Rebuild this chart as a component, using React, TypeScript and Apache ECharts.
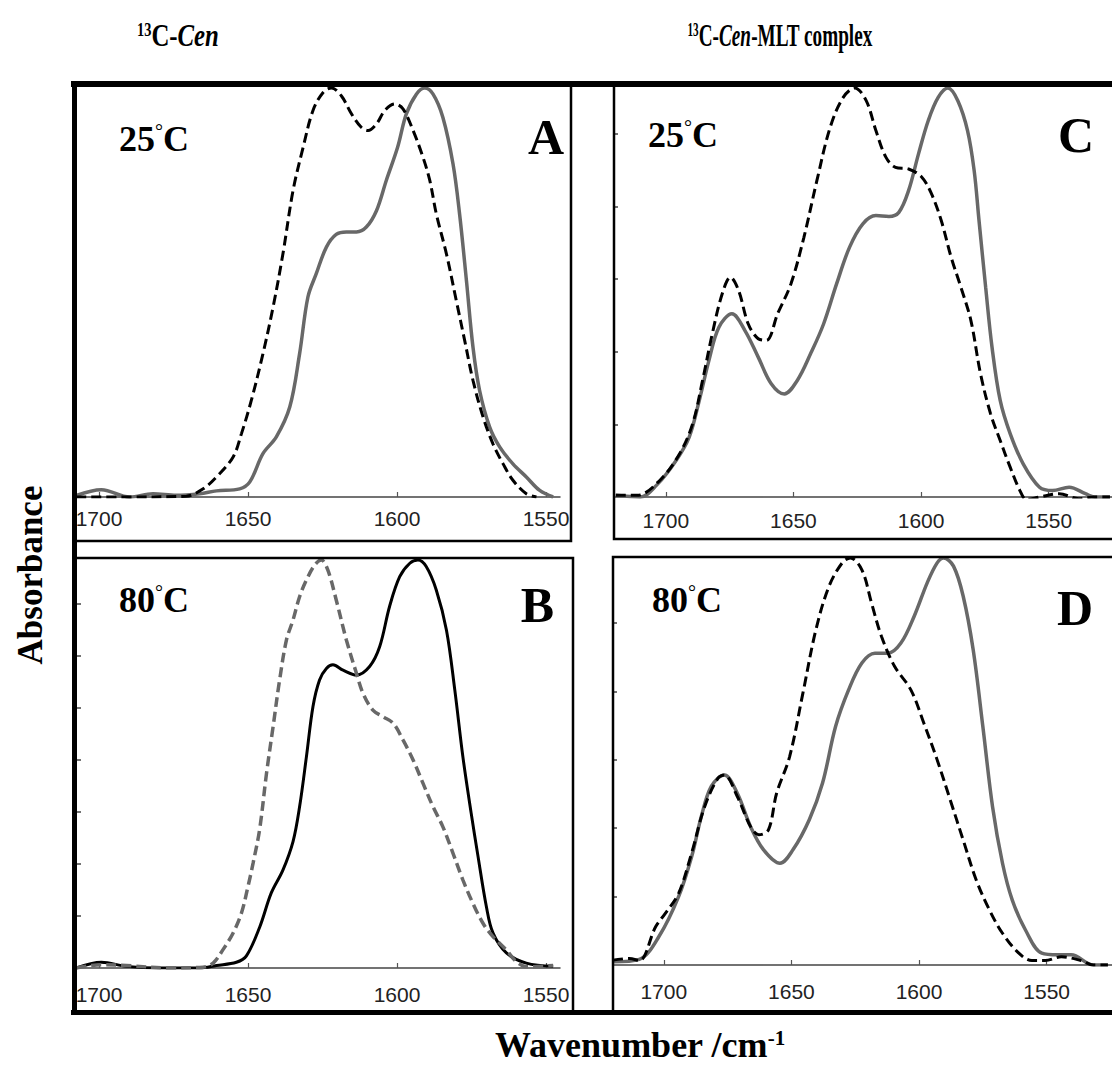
import React, { useEffect, useRef } from 'react';
import * as echarts from 'echarts';

// Wavenumber tick labels (cm-1)
const xTickValues = [1550, 1600, 1650, 1700];

// Panel A: 13C-Cen, 25 °C  [wavenumber, normalized absorbance]
const aSolid: number[][] = [
  [1707.6, 0.004], [1699.2, 0.018], [1689.7, 0.0], [1681.9, 0.008], [1674.1, 0.004], [1666.2, 0.008],
  [1660.6, 0.015], [1652.8, 0.02], [1649.4, 0.037], [1645.0, 0.106], [1640.5, 0.147], [1636.0, 0.22],
  [1632.7, 0.35], [1629.9, 0.489], [1627.1, 0.546], [1623.7, 0.611], [1620.4, 0.642], [1617.0, 0.648],
  [1613.6, 0.648], [1610.3, 0.66], [1606.9, 0.7], [1603.6, 0.774], [1599.8, 0.855], [1596.9, 0.936],
  [1593.5, 0.985], [1590.7, 1.0], [1587.9, 0.985], [1584.6, 0.928], [1581.2, 0.814], [1579.0, 0.692],
  [1576.7, 0.529], [1574.5, 0.366], [1572.3, 0.261], [1568.9, 0.171], [1565.5, 0.122], [1561.1, 0.081],
  [1556.6, 0.049], [1552.1, 0.016], [1547.6, 0.0],
];
const aDashed: number[][] = [
  [1707.6, 0.0], [1690, 0.0], [1670.7, 0.002], [1665.1, 0.02], [1660.6, 0.049], [1655.0, 0.098],
  [1652.2, 0.155], [1648.9, 0.236], [1645.0, 0.35], [1641.6, 0.464], [1638.3, 0.594], [1634.9, 0.749],
  [1631.5, 0.855], [1628.2, 0.945], [1624.8, 0.989], [1622.0, 1.0], [1618.7, 0.981], [1615.3, 0.937],
  [1612.0, 0.904], [1609.7, 0.896], [1606.9, 0.912], [1604.1, 0.945], [1600.8, 0.961], [1598.0, 0.949],
  [1594.6, 0.896], [1591.3, 0.831], [1589.0, 0.774], [1586.8, 0.692], [1583.4, 0.594], [1580.1, 0.48],
  [1577.3, 0.383], [1574.5, 0.285], [1571.1, 0.195], [1567.8, 0.13], [1564.4, 0.081], [1561.1, 0.041],
  [1556.6, 0.008], [1553.2, 0.0],
];

// Panel B: 13C-Cen, 80 °C
const bSolid: number[][] = [
  [1707.6, 0.0], [1699.2, 0.014], [1690.8, 0.004], [1679.6, 0.0], [1666.2, 0.0], [1660.6, 0.006],
  [1653.9, 0.014], [1650.6, 0.029], [1646.1, 0.1], [1642.2, 0.184], [1638.3, 0.24], [1634.9, 0.31],
  [1632.7, 0.395], [1630.4, 0.518], [1628.2, 0.641], [1626.0, 0.706], [1623.7, 0.734], [1621.5, 0.743],
  [1618.1, 0.73], [1613.6, 0.718], [1609.2, 0.739], [1605.8, 0.788], [1602.5, 0.886], [1599.1, 0.959],
  [1595.7, 0.992], [1593.0, 1.0], [1590.2, 0.984], [1586.8, 0.926], [1583.4, 0.828], [1580.6, 0.681],
  [1577.9, 0.518], [1575.1, 0.379], [1572.8, 0.273], [1570.0, 0.15], [1567.8, 0.086], [1563.3, 0.037],
  [1556.6, 0.012], [1547.6, 0.004],
];
const bDashed: number[][] = [
  [1707.6, 0.0], [1699.2, 0.008], [1690.8, 0.006], [1676.0, 0.0], [1665.1, 0.002], [1661.7, 0.012],
  [1658.4, 0.045], [1655.0, 0.086], [1652.2, 0.135], [1650.0, 0.2], [1648.3, 0.257], [1646.1, 0.34],
  [1643.8, 0.477], [1641.6, 0.591], [1639.4, 0.706], [1637.1, 0.804], [1634.9, 0.853], [1632.7, 0.91],
  [1630.4, 0.951], [1627.6, 0.988], [1625.4, 1.0], [1623.2, 0.975], [1620.4, 0.902], [1617.0, 0.804],
  [1613.6, 0.722], [1611.4, 0.673], [1608.1, 0.632], [1604.7, 0.616], [1601.3, 0.6], [1598.0, 0.559],
  [1594.6, 0.51], [1591.3, 0.453], [1587.9, 0.395], [1584.6, 0.346], [1581.2, 0.281], [1577.9, 0.216],
  [1574.5, 0.158], [1571.1, 0.109], [1567.8, 0.077], [1563.3, 0.044], [1560.0, 0.016], [1556.6, 0.003],
  [1547.6, 0.006],
];

// Panel C: 13C-Cen-MLT complex, 25 °C
const cSolid: number[][] = [
  [1719.6, 0.004], [1710.0, 0.0], [1703.6, 0.029], [1695.9, 0.09], [1690.8, 0.147], [1686.9, 0.236],
  [1683.1, 0.334], [1679.2, 0.415], [1674.1, 0.448], [1669.0, 0.407], [1663.8, 0.342], [1658.7, 0.277],
  [1653.6, 0.252], [1648.5, 0.285], [1643.3, 0.35], [1638.2, 0.423], [1633.1, 0.521], [1628.0, 0.611],
  [1622.8, 0.668], [1617.7, 0.688], [1612.6, 0.686], [1608.7, 0.696], [1604.9, 0.749], [1601.0, 0.839],
  [1597.2, 0.92], [1593.3, 0.977], [1589.5, 1.0], [1585.6, 0.969], [1581.8, 0.896], [1579.2, 0.798],
  [1577.3, 0.676], [1574.7, 0.513], [1572.2, 0.366], [1569.0, 0.236], [1565.1, 0.155], [1560.0, 0.081],
  [1553.6, 0.024], [1548.5, 0.016], [1542.0, 0.024], [1535.6, 0.008], [1532.0, 0.0], [1526.0, 0.0],
];
const cDashed: number[][] = [
  [1719.6, 0.004], [1711.3, 0.004], [1702.3, 0.041], [1694.6, 0.106], [1689.5, 0.179], [1685.6, 0.285],
  [1681.8, 0.399], [1677.9, 0.497], [1674.7, 0.537], [1671.5, 0.505], [1667.7, 0.423], [1663.8, 0.387],
  [1660.6, 0.383], [1656.2, 0.448], [1651.0, 0.521], [1645.9, 0.635], [1640.8, 0.774], [1635.6, 0.904],
  [1630.5, 0.977], [1626.0, 1.0], [1621.5, 0.969], [1617.7, 0.896], [1613.8, 0.831], [1610.0, 0.806],
  [1604.9, 0.802], [1599.7, 0.782], [1595.9, 0.741], [1592.1, 0.676], [1588.2, 0.586], [1584.4, 0.513],
  [1580.5, 0.432], [1576.7, 0.301], [1572.8, 0.204], [1569.0, 0.138], [1565.1, 0.073], [1561.3, 0.016],
  [1558.7, -0.006], [1553.6, 0.0], [1545.9, 0.008], [1538.2, -0.004], [1532.0, 0.0], [1526.0, 0.0],
];

// Panel D: 13C-Cen-MLT complex, 80 °C
const dSolid: number[][] = [
  [1719.9, 0.008], [1709.6, 0.014], [1701.9, 0.07], [1694.2, 0.168], [1689.1, 0.266], [1685.3, 0.365],
  [1681.4, 0.439], [1676.3, 0.467], [1671.2, 0.422], [1666.0, 0.34], [1660.9, 0.283], [1654.5, 0.25],
  [1649.4, 0.283], [1643.0, 0.357], [1637.8, 0.447], [1632.7, 0.586], [1627.6, 0.676], [1622.4, 0.742],
  [1617.3, 0.766], [1612.2, 0.766], [1607.1, 0.791], [1601.9, 0.857], [1596.8, 0.939], [1592.9, 0.988],
  [1590.4, 1.0], [1586.5, 0.98], [1582.7, 0.906], [1578.8, 0.775], [1575.0, 0.586], [1571.2, 0.389],
  [1567.3, 0.25], [1563.5, 0.16], [1558.3, 0.086], [1551.9, 0.029], [1545.5, 0.025], [1540.4, 0.025],
  [1531.7, 0.0], [1526.0, 0.0],
];
const dDashed: number[][] = [
  [1719.9, 0.012], [1713.5, 0.016], [1709.6, 0.011], [1703.2, 0.094], [1699.4, 0.127], [1694.2, 0.176],
  [1689.1, 0.275], [1684.0, 0.389], [1678.8, 0.459], [1676.3, 0.467], [1671.2, 0.414], [1666.0, 0.34],
  [1662.8, 0.32], [1659.0, 0.332], [1655.8, 0.422], [1650.7, 0.512], [1645.5, 0.668], [1640.4, 0.824],
  [1635.3, 0.93], [1630.1, 0.988], [1626.9, 1.0], [1622.4, 0.971], [1618.6, 0.889], [1614.7, 0.807],
  [1609.6, 0.734], [1603.2, 0.676], [1598.1, 0.594], [1592.9, 0.504], [1587.8, 0.406], [1582.7, 0.307],
  [1577.6, 0.209], [1572.4, 0.135], [1567.3, 0.078], [1560.9, 0.029], [1555.8, 0.011], [1550.6, 0.011],
  [1544.2, 0.02], [1536.6, 0.011], [1531.7, 0.0], [1526.0, 0.0],
];

const SERIF = 'Liberation Serif, Times New Roman, serif';
const SANS = 'Liberation Sans, Arial, sans-serif';

const GRAY = '#686868';
const BLACK = '#000000';

type Panel = {
  left: number; top: number; width: number; height: number;
  xmin: number; xmax: number; yStep: number; yCount: number; labelMargin: number;
};

const panels: Panel[] = [
  { left: 77, top: 88, width: 483, height: 409, xmin: 1545.3, xmax: 1707.4, yStep: 0, yCount: 0, labelMargin: 11 },
  { left: 77, top: 560, width: 483, height: 408, xmin: 1545.3, xmax: 1707.4, yStep: 0.1275, yCount: 7, labelMargin: 16 },
  { left: 614, top: 88, width: 506, height: 409, xmin: 1525.2, xmax: 1720.3, yStep: 0.1775, yCount: 5, labelMargin: 13 },
  { left: 613, top: 558, width: 507, height: 407, xmin: 1524.4, xmax: 1719.9, yStep: 0.168, yCount: 5, labelMargin: 16 },
];

function buildOption() {
  const grid = panels.map((p) => ({ left: p.left, top: p.top, width: p.width, height: p.height, containLabel: false }));
  const xAxis = panels.map((p, i) => ({
    gridIndex: i,
    type: 'value',
    inverse: true,
    min: p.xmin,
    max: p.xmax,
    axisLine: { show: true, onZero: false, lineStyle: { color: '#444', width: 1.5 } },
    axisTick: { show: true, inside: true, length: 5, customValues: xTickValues, lineStyle: { color: '#555', width: 1.2 } },
    axisLabel: {
      show: true,
      customValues: xTickValues,
      formatter: (v: number) => String(Math.round(v)),
      fontSize: 21,
      color: '#222',
      fontFamily: SANS,
      margin: p.labelMargin,
    },
    splitLine: { show: false },
  }));
  const yAxis = panels.map((p, i) => {
    const ticks: number[] = [];
    for (let k = 1; k <= p.yCount; k++) ticks.push(k * p.yStep);
    return {
      gridIndex: i,
      type: 'value',
      min: 0,
      max: 1,
      axisLine: { show: false },
      axisTick: { show: ticks.length > 0, inside: true, length: 4, customValues: ticks, lineStyle: { color: '#444', width: 1.5 } },
      axisLabel: { show: false },
      splitLine: { show: false },
    };
  });

  const line = (idx: number, data: number[][], color: string, width: number, dashed: boolean) => ({
    type: 'line',
    xAxisIndex: idx,
    yAxisIndex: idx,
    data,
    smooth: 0.35,
    showSymbol: false,
    symbol: 'none',
    clip: true,
    lineStyle: { color, width, type: dashed ? [10, 5] : 'solid', cap: 'butt' },
    z: dashed ? 3 : 2,
  });

  const series = [
    line(0, aSolid, GRAY, 3.5, false),
    line(0, aDashed, BLACK, 3, true),
    line(1, bSolid, BLACK, 3, false),
    line(1, bDashed, GRAY, 3.5, true),
    line(2, cSolid, GRAY, 3.5, false),
    line(2, cDashed, BLACK, 3, true),
    line(3, dSolid, GRAY, 3.5, false),
    line(3, dDashed, BLACK, 3, true),
  ];

  const tempLabel = (x: number, y: number, num: string) => ({
    type: 'text',
    x, y, z: 200,
    style: {
      text: `{n|${num}}{d|°}{n|C}`,
      rich: {
        n: { fontSize: 36, fontWeight: 'bold', fontFamily: SERIF, fill: '#000' },
        d: { fontSize: 20, fontFamily: SERIF, verticalAlign: 'top', fill: '#000' },
      },
      align: 'left',
      verticalAlign: 'middle',
    },
  });
  const letter = (x: number, y: number, t: string) => ({
    type: 'text', x, y, z: 200,
    style: { text: t, fontSize: 50, fontWeight: 'bold', fontFamily: SERIF, fill: '#000', align: 'right', verticalAlign: 'middle' },
  });

  const box = (x: number, y: number, w: number, h: number) => ({
    type: 'rect', z: 150, shape: { x, y, width: w, height: h },
    style: { fill: 'none', stroke: '#000', lineWidth: 2.5 },
  });
  const thick = (x1: number, y1: number, x2: number, y2: number, w: number) => ({
    type: 'line', z: 160, shape: { x1, y1, x2, y2 }, style: { stroke: '#000', lineWidth: w },
  });

  const titleRich = {
    s: { fontSize: 18, fontWeight: 'bold', fontFamily: SERIF, verticalAlign: 'top', fill: '#000' },
    b: { fontSize: 31, fontWeight: 'bold', fontFamily: SERIF, fill: '#000' },
    i: { fontSize: 31, fontWeight: 'bold', fontStyle: 'italic', fontFamily: SERIF, fill: '#000' },
  };

  const graphic = [
    box(75, 85, 496, 456),
    box(75, 558, 498, 454),
    box(614, 85, 520, 454),
    box(613, 557, 520, 455),
    thick(71, 84, 1112, 84, 6),
    thick(74.5, 81, 74.5, 1015, 5),
    thick(71, 1012.5, 1112, 1012.5, 5),
    tempLabel(119, 139, '25'),
    letter(564, 137, 'A'),
    tempLabel(648, 135, '25'),
    letter(1094, 135, 'C'),
    tempLabel(119, 600, '80'),
    letter(554, 605, 'B'),
    tempLabel(652, 600, '80'),
    letter(1093, 608, 'D'),
    {
      type: 'text', x: 137, y: 36, z: 200, scaleX: 0.8,
      style: { text: '{s|13}{b|C-}{i|Cen}', rich: titleRich, align: 'left', verticalAlign: 'middle' },
    },
    {
      type: 'text', x: 780, y: 36, z: 200, scaleX: 0.62,
      style: { text: '{s|13}{b|C-}{i|Cen}{b|-MLT complex}', rich: titleRich, align: 'center', verticalAlign: 'middle' },
    },
    {
      type: 'text', x: 30, y: 575, z: 200, rotation: Math.PI / 2,
      style: { text: 'Absorbance', fontSize: 35, fontWeight: 'bold', fontFamily: SERIF, fill: '#000', align: 'center', verticalAlign: 'middle' },
    },
    {
      type: 'text', x: 640, y: 1045, z: 200,
      style: {
        text: '{b|Wavenumber /cm}{s|-1}',
        rich: {
          b: { fontSize: 36, fontWeight: 'bold', fontFamily: SERIF, fill: '#000' },
          s: { fontSize: 21, fontWeight: 'bold', fontFamily: SERIF, verticalAlign: 'top', fill: '#000' },
        },
        align: 'center', verticalAlign: 'middle',
      },
    },
  ];

  return {
    animation: false,
    backgroundColor: '#ffffff',
    grid,
    xAxis,
    yAxis,
    series,
    graphic,
  };
}

export default function App() {
  const ref = useRef<HTMLDivElement>(null);
  useEffect(() => {
    document.body.style.margin = '0';
    document.body.style.overflow = 'hidden';
    const chart = echarts.init(ref.current as HTMLDivElement, null, { renderer: 'svg' });
    chart.setOption(buildOption() as any);
    return () => chart.dispose();
  }, []);
  return <div ref={ref} style={{ width: 1112, height: 1066, position: 'absolute', left: 0, top: 0 }} />;
}
